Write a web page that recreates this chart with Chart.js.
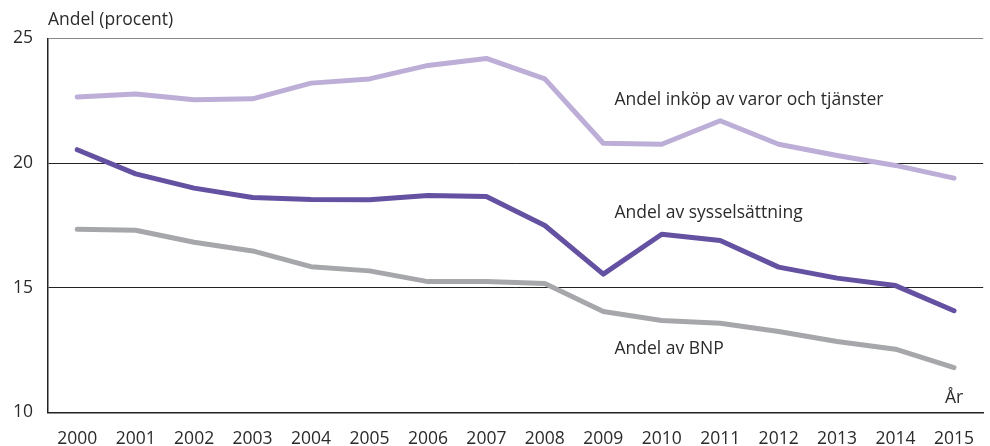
<!DOCTYPE html>
<html><head><meta charset="utf-8">
<script src="https://cdn.jsdelivr.net/npm/chart.js@4"></script>
<style>html,body{margin:0;padding:0;background:#fff}#w{width:990px;height:446px}</style>
</head><body><div id="w"><canvas id="c"></canvas></div>
<script>
const years = ['2000','2001','2002','2003','2004','2005','2006','2007','2008','2009','2010','2011','2012','2013','2014','2015'];
const inkop = [22.65,22.77,22.54,22.58,23.21,23.38,23.92,24.2,23.38,20.8,20.76,21.7,20.76,20.31,19.91,19.4];
const syssel = [20.54,19.57,19.0,18.62,18.54,18.53,18.7,18.66,17.5,15.55,17.15,16.9,15.83,15.39,15.09,14.08];
const bnp = [17.35,17.31,16.83,16.48,15.85,15.68,15.25,15.25,15.17,14.05,13.69,13.58,13.25,12.85,12.54,11.8];
const yTicks = [10,15,20,25];
const seriesLabels = ['Andel inköp av varor och tjänster','Andel av sysselsättning','Andel av BNP'];
// label anchors: [category index, value]
const labelAnchors = [[9.19,22.55],[9.19,18.0],[9.19,12.55]];
const axisTitle = 'Andel (procent)';
const xTitle = 'År';

const FONT = '"Open Sans", sans-serif';
const textPlugin = {
  id:'texts',
  afterDraw(chart){
    const {ctx, scales:{x,y}, chartArea} = chart;
    ctx.save();
    ctx.fillStyle = '#2b2b2b';
    ctx.font = '17.5px ' + FONT;
    ctx.textBaseline = 'middle';
    ctx.textAlign = 'left';
    ctx.fillText(axisTitle, chartArea.left, 20);
    const step = x.getPixelForValue(1) - x.getPixelForValue(0);
    seriesLabels.forEach((t,i)=>{
      const px = x.getPixelForValue(0) + labelAnchors[i][0]*step;
      ctx.fillText(t, px, y.getPixelForValue(labelAnchors[i][1]));
    });
    ctx.textAlign = 'center';
    ctx.fillText(xTitle, x.getPixelForValue(years.length-1), y.getPixelForValue(10.6));
    ctx.restore();
  }
};

new Chart(document.getElementById('c'), {
  type:'line',
  data:{labels:years, datasets:[
    {data:inkop, borderColor:'#bcaed7', borderWidth:5},
    {data:syssel, borderColor:'#6551a1', borderWidth:5},
    {data:bnp, borderColor:'#a6a7aa', borderWidth:5}
  ]},
  options:{
    responsive:true, maintainAspectRatio:false, animation:false,
    layout:{padding:{top:38.5,right:0,left:0,bottom:0}},
    elements:{point:{radius:0}, line:{tension:0, borderCapStyle:'round', borderJoinStyle:'round'}},
    plugins:{legend:{display:false}, tooltip:{enabled:false}},
    scales:{
      x:{
        offset:true,
        grid:{display:false, drawTicks:false},
        border:{display:true, color:'#222', width:1.5},
        ticks:{color:'#2b2b2b', font:{family:FONT, size:17.5}, padding:16, maxRotation:0, autoSkip:false},
        afterFit(s){ s.height = 33.5; }
      },
      y:{
        min:10, max:25,
        afterBuildTicks(s){ s.ticks = yTicks.map(v=>({value:v})); },
        grid:{drawTicks:false, color:(c)=> c.tick && c.tick.value===25 ? '#8a8a8a' : '#222', lineWidth:1},
        border:{display:true, color:'#222', width:1.5},
        ticks:{color:'#2b2b2b', font:{family:FONT, size:17.5}, padding:15},
        afterFit(s){ s.width = 48; }
      }
    }
  },
  plugins:[textPlugin]
});
</script>
</body></html>
